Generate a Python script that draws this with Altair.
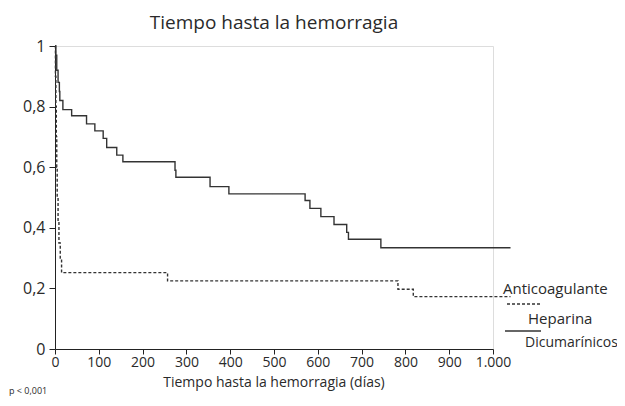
import altair as alt
import pandas as pd

# Dicumarínicos (solid) step points
dic_days = [0, 2, 4, 7, 10, 11, 18, 38, 72, 91, 110, 118, 141, 155, 274, 276, 354, 397, 571, 582, 607, 637, 666, 670, 744, 1040]
dic_surv = [1.0, 0.97, 0.92, 0.88, 0.85, 0.82, 0.79, 0.77, 0.743, 0.72, 0.695, 0.665, 0.64, 0.618, 0.59, 0.567, 0.536, 0.512, 0.49, 0.464, 0.437, 0.411, 0.385, 0.362, 0.334, 0.334]

# Heparina (dotted) step points
hep_days = [0, 1, 2, 3, 4, 5, 7, 9, 12, 15, 257, 783, 818, 1040]
hep_surv = [1.0, 0.9, 0.8, 0.7, 0.6, 0.5, 0.42, 0.35, 0.3, 0.252, 0.225, 0.197, 0.173, 0.173]

series_names = ["Heparina", "Dicumarínicos"]
x_ticks = [0, 100, 200, 300, 400, 500, 600, 700, 800, 900, 1000]
y_ticks = [0, 0.2, 0.4, 0.6, 0.8, 1.0]

title_text = "Tiempo hasta la hemorragia"
x_title = "Tiempo hasta la hemorragia (días)"
p_text = "p < 0,001"
legend_title = "Anticoagulante"

df = pd.concat([
    pd.DataFrame({"dias": hep_days, "surv": hep_surv, "grupo": series_names[0]}),
    pd.DataFrame({"dias": dic_days, "surv": dic_surv, "grupo": series_names[1]}),
])

FONT = "Open Sans"
INK = "#2a2a2a"

lines = alt.Chart(df).mark_line(interpolate="step-after", strokeWidth=1.4, color="#333333").encode(
    x=alt.X("dias:Q", scale=alt.Scale(domain=[0, 1000], nice=False, zero=True),
            axis=alt.Axis(values=x_ticks, title=None, grid=False, tickSize=5, labelPadding=1,
                          labelFontSize=14, labelColor=INK, labelFont=FONT,
                          labelExpr="replace(datum.label, ',', '.')",
                          domainColor="#222", tickColor="#222", labelFlush=False)),
    y=alt.Y("surv:Q", scale=alt.Scale(domain=[0, 1], nice=False),
            axis=alt.Axis(values=y_ticks, title=None, grid=False, tickSize=6, labelPadding=4,
                          labelFontSize=16, labelColor=INK, labelFont=FONT,
                          labelExpr="datum.value == 0 ? '0' : datum.value == 1 ? '1' : replace(format(datum.value, '.1f'), '.', ',')",
                          domainColor="#222", tickColor="#222", labelFlush=False)),
    strokeDash=alt.StrokeDash("grupo:N", scale=alt.Scale(domain=series_names, range=[[3, 2], [1, 0]]), legend=None),
    detail="grupo:N",
)

def txt(s, x, y, size, align="left", baseline="middle"):
    return alt.Chart(pd.DataFrame({"t": [s]})).mark_text(
        font=FONT, fontSize=size, color=INK, align=align, baseline=baseline
    ).encode(text="t:N", x=alt.value(x), y=alt.value(y))

title = txt(title_text, 219, -23, 19, align="center")
xtitle = txt(x_title, 219, 337, 14, align="center")
ptext = txt(p_text, -46, 348, 9, baseline="alphabetic")
leg_title = txt(legend_title, 448, 243, 15)
leg_h = txt(series_names[0], 473, 273, 15)
leg_d = txt(series_names[1], 470, 297, 14)

leg_dot = alt.Chart(pd.DataFrame({"g": [series_names[0]]})).mark_rule(
    color="#333333", strokeWidth=1.4, strokeDash=[3, 2]
).encode(x=alt.value(452), x2=alt.value(486), y=alt.value(258))
leg_solid = alt.Chart(pd.DataFrame({"g": [series_names[1]]})).mark_rule(
    color="#333333", strokeWidth=1.4
).encode(x=alt.value(450), x2=alt.value(486), y=alt.value(285))

chart = alt.layer(
    lines, title, xtitle, ptext, leg_title, leg_h, leg_d, leg_dot, leg_solid
).properties(
    width=438, height=303,
    autosize=alt.AutoSizeParams(type="none"),
    padding={"left": 47, "top": 38, "right": 124, "bottom": 49},
).configure_view(
    stroke="#222", strokeWidth=1
).configure(background="white")

chart.save("out.html", embed_options={"renderer": "svg", "actions": False})
